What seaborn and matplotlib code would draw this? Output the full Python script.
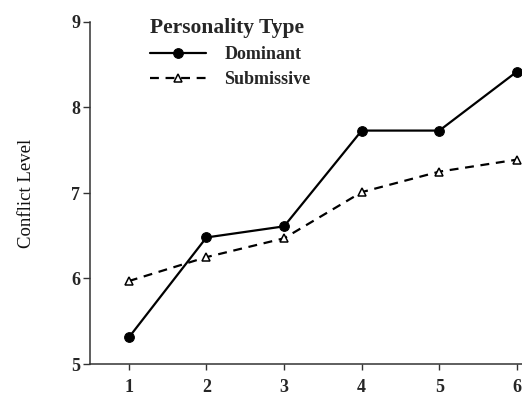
"""
Line plot of conflict level over rounds for dominant vs submissive personality types
"""

# Importing libraries
import pandas as pd
import seaborn as sns
import matplotlib.pyplot as plt

# data
rounds = [1, 2, 3, 4, 5, 6]
dominant = [5.31, 6.48, 6.61, 7.73, 7.73, 8.42]
submissive = [5.97, 6.25, 6.47, 7.01, 7.25, 7.39]
y_ticks = [5, 6, 7, 8, 9]

df = pd.DataFrame({
    'Round': rounds * 2,
    'Conflict Level': dominant + submissive,
    'Personality Type': ['Dominant'] * 6 + ['Submissive'] * 6,
})

sns.set_style('white')
plt.rcParams['font.family'] = ['Liberation Serif', 'DejaVu Serif']

fig = plt.figure(figsize=(5.22, 4.15), dpi=100)
ax = fig.add_axes([90 / 522, 51 / 415, 432 / 522, 342 / 415])

# Dominant: solid line with filled circles
sns.lineplot(data=df[df['Personality Type'] == 'Dominant'], x='Round', y='Conflict Level',
             ax=ax, color='black', linewidth=1.6, marker='o', markersize=7,
             markerfacecolor='black', markeredgecolor='black', label='Dominant',
             clip_on=False)
# Submissive: dashed line with open triangles
sns.lineplot(data=df[df['Personality Type'] == 'Submissive'], x='Round', y='Conflict Level',
             ax=ax, color='black', linewidth=1.6, linestyle=(0, (4, 3)), marker='^',
             markersize=6, markerfacecolor='white', markeredgecolor='black',
             markeredgewidth=1.1, label='Submissive', clip_on=False)

ax.set_xlim(0.5, 6.065)
ax.set_ylim(5, 9)
ax.set_xticks(rounds)
ax.set_yticks(y_ticks)
ax.tick_params(axis='both', direction='out', bottom=True, left=True, width=1,
               color='#333333', labelsize=13)
ax.tick_params(axis='y', length=5, pad=2)
ax.tick_params(axis='x', length=4, pad=7)
for lab in ax.get_xticklabels() + ax.get_yticklabels():
    lab.set_fontweight('bold')

for side in ['top', 'right']:
    ax.spines[side].set_visible(False)
for side in ['left', 'bottom']:
    ax.spines[side].set_color('#333333')
    ax.spines[side].set_linewidth(1.1)

ax.set_ylabel('Conflict Level', fontsize=13.5, labelpad=26, color='#111111')
# x label sits mostly below the bottom edge, as in the cropped original
ax.set_xlabel('Interaction Trial', fontsize=13, labelpad=23)

leg = ax.legend(title='Personality Type', loc='upper left', bbox_to_anchor=(0.102, 1.06),
                frameon=False, handlelength=3.1, handletextpad=1.0, labelspacing=0.45,
                alignment='left', prop={'weight': 'bold', 'size': 13})
leg.get_title().set_fontsize(15.5)
leg.get_title().set_fontweight('bold')

plt.savefig('out.png', dpi=100)
